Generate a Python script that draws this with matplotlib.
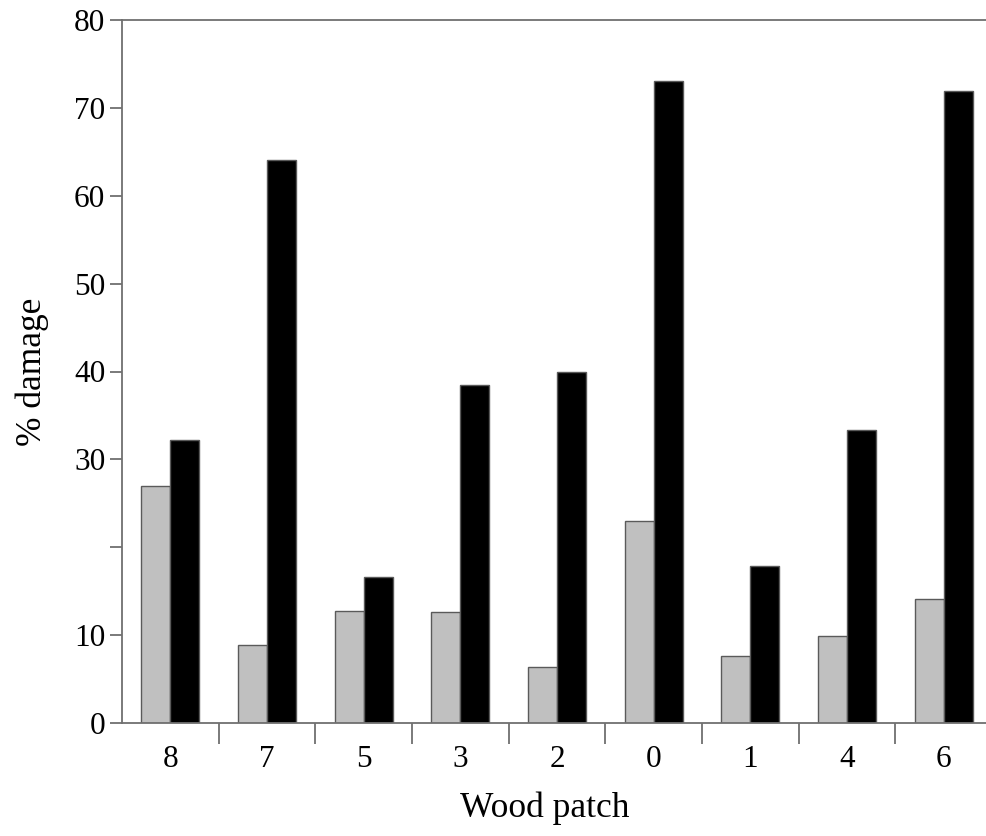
import numpy as np
import matplotlib.pyplot as plt

patches = ['8', '7', '5', '3', '2', '0', '1', '4', '6']
grey_vals = [27.0, 8.9, 12.7, 12.6, 6.4, 23.0, 7.6, 9.9, 14.1]
black_vals = [32.2, 64.1, 16.6, 38.5, 39.9, 73.1, 17.9, 33.3, 71.9]
yticks = [0, 10, 20, 30, 40, 50, 60, 70, 80]
ylabels = ['0', '10', '', '30', '40', '50', '60', '70', '80']

plt.rcParams['font.family'] = ['Liberation Serif', 'DejaVu Serif']

fig = plt.figure(figsize=(9.86, 8.36), dpi=100)
ax = fig.add_axes([122 / 986, 113 / 836, 870 / 986, 703 / 836])

x = np.arange(len(patches))
w = 0.3
ax.bar(x - w / 2, grey_vals, w, color='#c0c0c0', edgecolor='#5a5a5a', linewidth=1.0)
ax.bar(x + w / 2, black_vals, w, color='black', edgecolor='#5a5a5a', linewidth=1.0)

ax.set_xlim(-0.5, len(patches) - 0.5)
ax.set_ylim(0, 80)

ax.spines['right'].set_visible(False)
for s in ['left', 'bottom', 'top']:
    ax.spines[s].set_color('#707070')
    ax.spines[s].set_linewidth(1.3)

ax.set_yticks(yticks)
ax.set_yticklabels(ylabels)
ax.tick_params(axis='y', direction='out', length=9, width=1.3, color='#707070',
               labelsize=22.5, pad=3)

# boundary ticks between patches, labels at centres
ax.set_xticks(np.arange(0.5, len(patches) - 0.5, 1.0))
ax.set_xticklabels([])
ax.set_xticks(x, minor=True)
ax.set_xticklabels(patches, minor=True)
ax.tick_params(axis='x', which='major', direction='out', length=15, width=1.3, color='#707070')
ax.tick_params(axis='x', which='minor', length=0, labelsize=22.5, pad=16)

ax.set_xlabel('Wood patch', fontsize=25.5, va='center')
ax.set_ylabel('% damage', fontsize=25.5, va='center', ha='center')
ax.xaxis.set_label_coords(423 / 870, -85 / 703)
ax.yaxis.set_label_coords(-90 / 870, 351 / 703)

fig.savefig('out.png', dpi=100)
